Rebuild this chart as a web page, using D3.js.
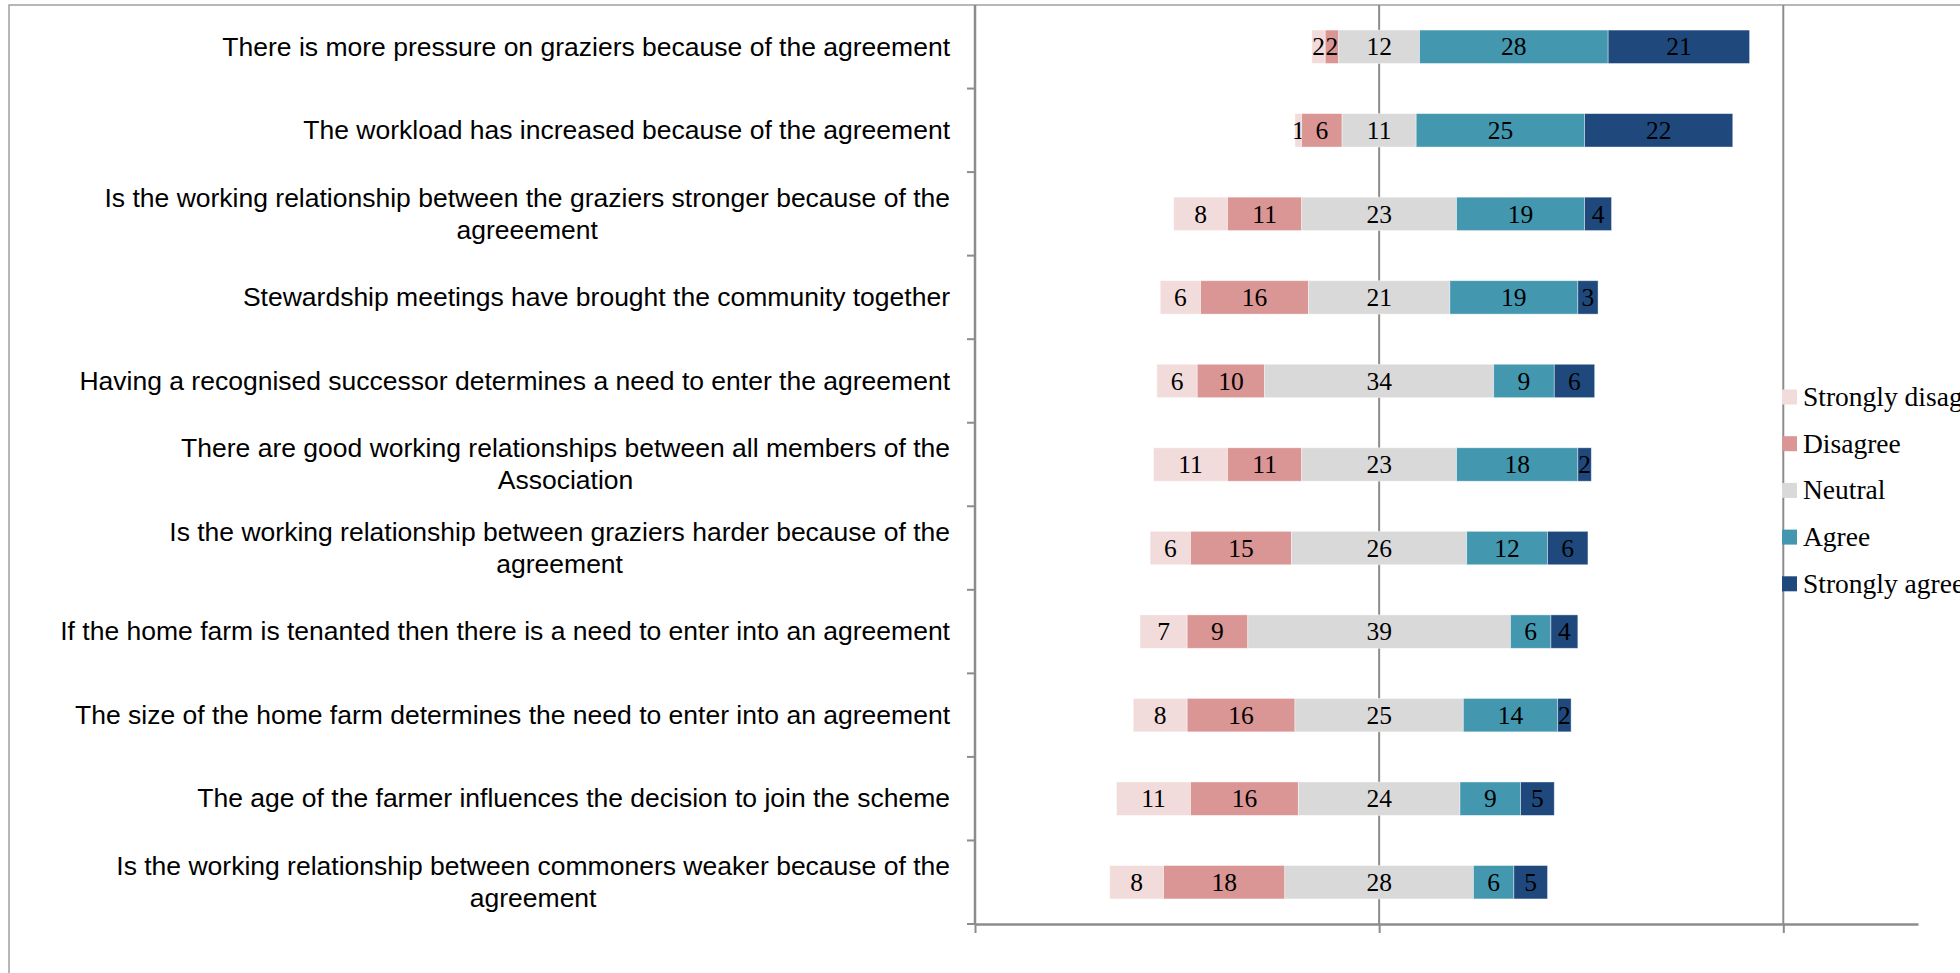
<!DOCTYPE html>
<html>
<head>
<meta charset="utf-8">
<script src="https://cdn.jsdelivr.net/npm/d3@7/dist/d3.min.js"></script>
<style>
  html, body { margin: 0; padding: 0; background: #fff; overflow: hidden; }
  svg { display: block; }
</style>
</head>
<body>
<svg id="chart" width="1960" height="973"></svg>
<script>
// Survey statements, top to bottom
const statements = [
  "There is more pressure on graziers because of the agreement",
  "The workload has increased because of the agreement",
  "Is the working relationship between the graziers stronger because of the agreeement",
  "Stewardship meetings have brought the community together",
  "Having a recognised successor determines a need to enter the agreement",
  "There are good working relationships between all members of the Association",
  "Is the working relationship between graziers harder because of the agreement",
  "If the home farm is tenanted then there is a need to enter into an agreement",
  "The size of the home farm determines the need to enter into an agreement",
  "The age of the farmer influences the decision to join the scheme",
  "Is the working relationship between commoners weaker because of the agreement"
];

// Response categories (legend order)
const responses = ["Strongly disagree", "Disagree", "Neutral", "Agree", "Strongly agree"];

// Counts per response, one value per statement
const stronglyDisagree = [2, 1, 8, 6, 6, 11, 6, 7, 8, 11, 8];
const disagree         = [2, 6, 11, 16, 10, 11, 15, 9, 16, 16, 18];
const neutral          = [12, 11, 23, 21, 34, 23, 26, 39, 25, 24, 28];
const agree            = [28, 25, 19, 19, 9, 18, 12, 6, 14, 9, 6];
const stronglyAgree    = [21, 22, 4, 3, 6, 2, 6, 4, 2, 5, 5];

// Value axis
const axisDomain = [-60, 80];
const axisTicks = [-60, 0, 60];

const colors = ["#F2DCDB", "#D99694", "#D9D9D9", "#4398B0", "#1F497D"];

// Build rows for d3.stack
const series = [stronglyDisagree, disagree, neutral, agree, stronglyAgree];
const rows = statements.map((s, i) => {
  const r = { statement: s };
  responses.forEach((k, j) => { r[k] = series[j][i]; });
  // Shift so the Neutral block is centred on zero
  r.offset = -(r[responses[0]] + r[responses[1]] + r[responses[2]] / 2);
  return r;
});

const stacked = d3.stack().keys(responses)(rows);

const svg = d3.select("#chart");
const plot = { left: 975, right: 1918, top: 5, bottom: 924 };

const x = d3.scaleLinear().domain(axisDomain).range([plot.left, plot.right]);
const y = d3.scaleBand().domain(statements).range([plot.top, plot.bottom]).paddingInner(0.6).paddingOuter(0.3);
const yBand = d3.scaleBand().domain(statements).range([plot.top, plot.bottom]);

const axisColor = "#8C8C8C";

// Outer frame
svg.append("rect")
  .attr("x", 9).attr("y", 5)
  .attr("width", 2000).attr("height", 1000)
  .attr("fill", "none").attr("stroke", "#A0A0A0").attr("stroke-width", 1.5);

// Vertical gridlines
svg.append("g")
  .selectAll("line")
  .data(axisTicks.filter(t => t !== axisDomain[0]))
  .join("line")
  .attr("x1", d => x(d)).attr("x2", d => x(d))
  .attr("y1", plot.top).attr("y2", plot.bottom)
  .attr("stroke", axisColor).attr("stroke-width", 2);

// Bottom value axis (no tick labels)
const xAxis = svg.append("g")
  .attr("transform", `translate(0,${plot.bottom})`)
  .call(d3.axisBottom(x).tickValues(axisTicks).tickSize(9).tickFormat("").tickSizeOuter(0));
xAxis.select(".domain").attr("stroke", axisColor).attr("stroke-width", 2.5);
xAxis.selectAll(".tick line").attr("stroke", axisColor).attr("stroke-width", 2);

// Left category axis: line plus separator ticks between categories
const boundaries = statements.map(s => yBand(s)).concat([plot.bottom]);
svg.append("line")
  .attr("x1", plot.left).attr("x2", plot.left)
  .attr("y1", plot.top).attr("y2", plot.bottom)
  .attr("stroke", axisColor).attr("stroke-width", 2.5);
svg.append("g")
  .selectAll("line")
  .data(boundaries.slice(1))
  .join("line")
  .attr("x1", plot.left - 8).attr("x2", plot.left)
  .attr("y1", d => d).attr("y2", d => d)
  .attr("stroke", axisColor).attr("stroke-width", 2);

// Stacked bars
const layers = svg.append("g")
  .selectAll("g")
  .data(stacked)
  .join("g")
  .attr("fill", (d, i) => colors[i]);

layers.selectAll("rect")
  .data(d => d)
  .join("rect")
  .attr("x", d => x(d[0] + d.data.offset))
  .attr("width", d => x(d[1] + d.data.offset) - x(d[0] + d.data.offset))
  .attr("y", d => y(d.data.statement))
  .attr("height", y.bandwidth())
  .attr("stroke", "#ffffff").attr("stroke-opacity", 0.5).attr("stroke-width", 0.8);

// Value labels inside segments
const valueFont = "'Liberation Serif', 'DejaVu Serif', serif";
layers.each(function(layer) {
  d3.select(this).selectAll("text")
    .data(layer)
    .join("text")
    .attr("x", d => x((d[0] + d[1]) / 2 + d.data.offset))
    .attr("y", d => y(d.data.statement) + y.bandwidth() / 2)
    .attr("dy", "0.34em")
    .attr("text-anchor", "middle")
    .attr("fill", "#000")
    .style("font-family", valueFont)
    .style("font-size", "25.5px")
    .text(d => d[1] - d[0]);
});

// Category labels: wrapped, right aligned block, lines centred within block
const labelFont = "'Liberation Sans', Arial, sans-serif";
const labelSize = 26.5;
const labelRight = 950;
const maxLabelWidth = 900;
const lineGap = 32;

const measure = svg.append("text")
  .style("font-family", labelFont).style("font-size", labelSize + "px")
  .attr("visibility", "hidden");
function textWidth(t) { measure.text(t); return measure.node().getComputedTextLength(); }
function wrap(t) {
  const words = t.split(" ");
  const lines = [];
  let cur = "";
  words.forEach(w => {
    const test = cur ? cur + " " + w : w;
    if (cur && textWidth(test) > maxLabelWidth) { lines.push(cur); cur = w; }
    else cur = test;
  });
  if (cur) lines.push(cur);
  return lines;
}

const labelG = svg.append("g");
statements.forEach(s => {
  const lines = wrap(s);
  const widths = lines.map(textWidth);
  const blockW = d3.max(widths);
  const cx = labelRight - blockW / 2;
  const cy = yBand(s) + yBand.bandwidth() / 2;
  lines.forEach((ln, i) => {
    labelG.append("text")
      .attr("x", lines.length > 1 ? cx : labelRight)
      .attr("y", cy + (i - (lines.length - 1) / 2) * lineGap)
      .attr("dy", "0.33em")
      .attr("text-anchor", lines.length > 1 ? "middle" : "end")
      .attr("fill", "#000")
      .style("font-family", labelFont)
      .style("font-size", labelSize + "px")
      .text(ln);
  });
});
measure.remove();

// Legend
const legend = svg.append("g").attr("transform", "translate(1782,397)");
const legendItems = legend.selectAll("g")
  .data(responses)
  .join("g")
  .attr("transform", (d, i) => `translate(0,${i * 46.7})`);
legendItems.append("rect")
  .attr("x", 0).attr("y", -7.5)
  .attr("width", 15).attr("height", 15)
  .attr("fill", (d, i) => colors[i]);
legendItems.append("text")
  .attr("x", 21).attr("y", 0).attr("dy", "0.33em")
  .style("font-family", valueFont)
  .style("font-size", "27.5px")
  .attr("fill", "#000")
  .text(d => d);
</script>
</body>
</html>
